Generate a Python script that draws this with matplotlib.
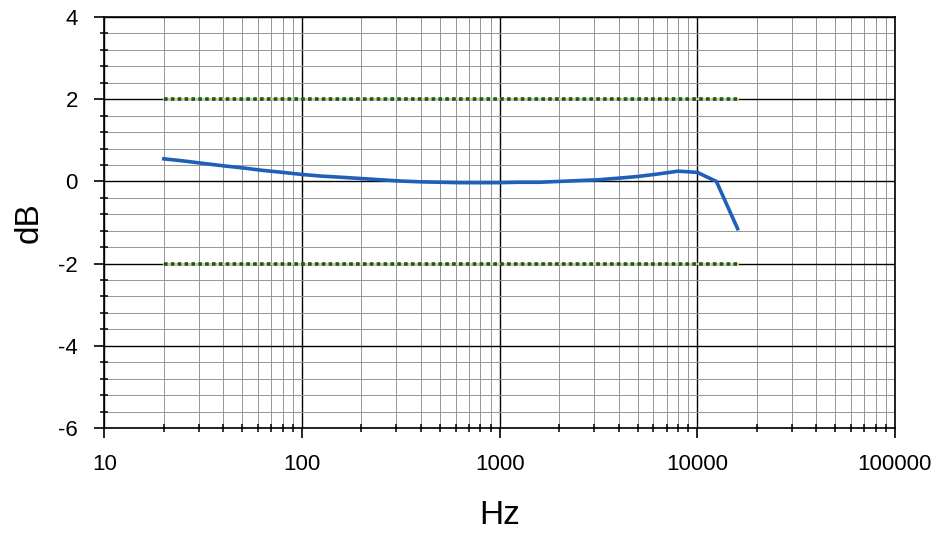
import numpy as np
import matplotlib.pyplot as plt
from matplotlib.ticker import FixedLocator, LogLocator, NullFormatter, MultipleLocator

# third-octave frequencies in Hz
freq = [20, 25, 31.5, 40, 50, 63, 80, 100, 125, 160, 200, 250, 315, 400, 500,
        630, 800, 1000, 1250, 1600, 2000, 2500, 3150, 4000, 5000, 6300, 8000,
        10000, 12500, 16000]
# response in dB
resp = [0.55, 0.5, 0.44, 0.38, 0.33, 0.27, 0.22, 0.17, 0.13, 0.1, 0.07, 0.04,
        0.01, -0.01, -0.02, -0.03, -0.03, -0.03, -0.02, -0.02, 0.0, 0.02, 0.04,
        0.08, 0.12, 0.18, 0.25, 0.22, 0.0, -1.15]

# tolerance limits
lim_freq = [20, 16000]
upper = [2, 2]
lower = [-2, -2]

xticks = [10, 100, 1000, 10000, 100000]
xlabels = ['10', '100', '1000', '10000', '100000']


def main():
    plt.rcParams['font.family'] = ['Liberation Sans', 'DejaVu Sans']
    plt.rcParams['axes.unicode_minus'] = False
    fig, ax = plt.subplots(figsize=(9.4, 5.33), dpi=100)
    fig.subplots_adjust(left=0.111, right=0.952, top=0.968, bottom=0.197)

    ax.set_xscale('log')
    ax.set_xlim(10, 100000)
    ax.set_ylim(-6, 4)

    ax.xaxis.set_major_locator(FixedLocator(xticks))
    ax.set_xticklabels(xlabels)
    ax.xaxis.set_minor_locator(LogLocator(base=10, subs=np.arange(2, 10)))
    ax.xaxis.set_minor_formatter(NullFormatter())
    ax.yaxis.set_major_locator(MultipleLocator(2))
    ax.yaxis.set_minor_locator(MultipleLocator(0.4))

    ax.grid(which='major', color='black', lw=1.0)
    ax.grid(which='minor', color='#959595', lw=0.7)
    ax.set_axisbelow(True)

    ax.tick_params(which='major', direction='out', length=7, width=1.2,
                   labelsize=16, pad=12, colors='black')
    ax.tick_params(which='minor', direction='inout', length=6, width=1.1)
    for s in ax.spines.values():
        s.set_linewidth(1.2)

    # tolerance lines: dark dots on a yellow-green base
    for lim in (upper, lower):
        ax.plot(lim_freq, lim, color='#cfdc4a', lw=1.5)
        ax.plot(lim_freq, lim, color='#1d4f45', lw=2.6, ls=(0, (1, 0.9)))
    ax.plot(freq, resp, color='#1f5fb8', lw=2.6)

    ax.set_xlabel('Hz', fontsize=24, labelpad=18)
    ax.set_ylabel('dB', fontsize=24, labelpad=10)

    fig.savefig('out.png')


if __name__ == "__main__":
    main()
